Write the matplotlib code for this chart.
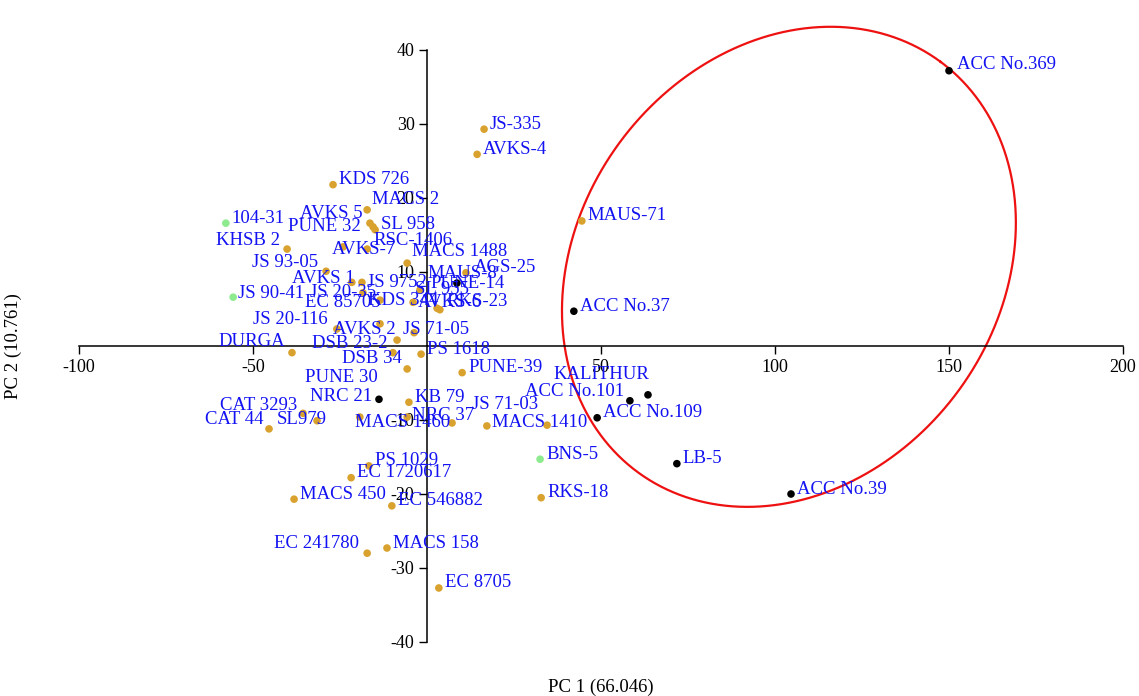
import numpy as np
import matplotlib.pyplot as plt

plt.rcParams['font.family'] = ['Liberation Serif', 'DejaVu Serif']
plt.rcParams['axes.unicode_minus'] = False

# genotype names, PC scores and group (o = orange, b = black, g = green)
names = ['JS-335', 'AVKS-4', 'MAUS-71', 'ACC No.37', 'ACC No.369',
         'KDS 726', 'MACS 2', 'AVKS 5', 'PUNE 32', 'SL 958',
         '104-31', 'KHSB 2', 'AVKS-7', 'RSC-1406', 'JS 93-05',
         'MACS 1488', 'AVKS 1', 'JS 9752', 'JS 90-41', 'JS 20-35',
         'EC 85705', 'KDS 344', 'SL 955', 'MAUS-8', 'AGS-25',
         'RKS-23', 'AVKS-6', 'AVKS 2', 'JS 20-116', 'DSB 23-2',
         'JS 71-05', 'DURGA', 'DSB 34', 'PS 1618', 'PUNE 30',
         'PUNE-39', 'NRC 21', 'KB 79', 'CAT 3293', 'SL979',
         'CAT 44', 'MACS 1460', 'NRC 37', 'JS 71-03', 'MACS 1410',
         'PUNE-14', 'ACC No.109', 'ACC No.101', 'KALITHUR', 'LB-5',
         'ACC No.39', 'BNS-5', 'RKS-18', 'PS 1029', 'EC 1720617',
         'MACS 450', 'EC 546882', 'EC 241780', 'MACS 158', 'EC 8705']
pc1 = [16.4, 14.4, 44.5, 42.2, 150.0,
       -27.0, -17.2, -16.4, -15.5, -14.9,
       -57.8, -40.2, -24.1, -17.2, -29.0,
       -5.7, -21.6, -18.7, -55.7, -18.4,
       -13.5, -4.0, -2.0, 8.6, 11.2,
       3.7, 2.9, -13.5, -25.9, -8.6,
       -3.7, -38.8, -9.8, -1.7, -5.7,
       10.1, -13.8, -5.2, -35.6, -31.6,
       -45.4, -19.3, -5.7, 7.2, 17.2,
       34.5, 48.9, 58.3, 63.5, 71.8,
       104.6, 32.5, 32.8, -16.7, -21.8,
       -38.2, -10.1, -17.2, -11.5, 3.4]
pc2 = [29.3, 25.9, 16.9, 4.7, 37.2,
       21.8, 18.4, 16.6, 16.1, 15.7,
       16.6, 13.1, 13.4, 13.1, 10.1,
       11.2, 8.6, 8.6, 6.6, 7.2,
       6.2, 5.9, 7.6, 8.5, 9.9,
       4.9, 5.1, 3.0, 2.3, 0.8,
       1.8, -0.9, -0.9, -1.1, -3.1,
       -3.6, -7.2, -7.6, -9.1, -10.1,
       -11.2, -9.6, -9.6, -10.4, -10.8,
       -10.7, -9.7, -7.4, -6.6, -15.9,
       -20.0, -15.3, -20.5, -16.2, -17.8,
       -20.7, -21.6, -28.0, -27.3, -32.7]
group = ['o', 'o', 'o', 'b', 'b',
         'o', 'o', 'o', 'o', 'o',
         'g', 'o', 'o', 'o', 'o',
         'o', 'o', 'o', 'g', 'o',
         'o', 'o', 'o', 'b', 'o',
         'o', 'o', 'o', 'o', 'o',
         'o', 'o', 'o', 'o', 'o',
         'o', 'b', 'o', 'o', 'o',
         'o', 'o', 'o', 'o', 'o',
         'o', 'b', 'b', 'b', 'b',
         'b', 'g', 'o', 'o', 'o',
         'o', 'o', 'o', 'o', 'o']

xticks = [-100, -50, 50, 100, 150, 200]
yticks = [-40, -30, -20, -10, 10, 20, 30, 40]

colors = {'o': '#D9A22E', 'b': '#000000', 'g': '#8EEA8E'}

# label offsets in pixels (dx right, dy up); default for the rest
default_off = (6, 5)
label_off = {
    'ACC No.369': (8, 6), 'MACS 2': (5, 10), 'AVKS 5': (-70, 10),
    'PUNE 32': (-85, 0), 'KHSB 2': (-71, 9), 'AVKS-7': (-11, -3),
    'RSC-1406': (6, 9), 'JS 93-05': (-74, 9), 'MACS 1488': (5, 12),
    'AVKS 1': (-60, 4), 'JS 9752': (5, 0), 'JS 90-41': (5, 4),
    'JS 20-35': (-53, 0), 'EC 85705': (-75, -2), 'KDS 344': (-45, 2),
    'SL 955': (-5, 0), 'MAUS-8': (-29, 10), 'AGS-25': (8, 5),
    'RKS-23': (7, 8), 'AVKS-6': (-19, 6), 'AVKS 2': (-47, -6),
    'JS 20-116': (-84, 9), 'DSB 23-2': (-85, -3), 'JS 71-05': (-11, 3),
    'DURGA': (-74, 11), 'DSB 34': (-51, -6), 'PUNE 30': (-102, -9),
    'NRC 21': (-69, 3), 'CAT 3293': (-83, 8), 'SL979': (-40, 1),
    'CAT 44': (-64, 9), 'MACS 1460': (-5, -5), 'NRC 37': (5, 2),
    'JS 71-03': (20, 18), 'MACS 1410': (5, 3), 'PUNE-14': (-117, 142),
    'ACC No.101': (-105, 9), 'KALITHUR': (-95, 20),
    'EC 241780': (-93, 10),
}

fig = plt.figure(figsize=(11.39, 6.96), dpi=100)
ax = fig.add_axes([79 / 1139, 54 / 696, 1044 / 1139, 592 / 696])
ax.set_xlim(-100, 200)
ax.set_ylim(-40, 40)

for x, y, g in zip(pc1, pc2, group):
    ax.scatter(x, y, s=30, color=colors[g], edgecolors='none', zorder=3)

for n, x, y in zip(names, pc1, pc2):
    dx, dy = label_off.get(n, default_off)
    ax.annotate(n, (x, y), xytext=(dx, dy), textcoords='offset pixels',
                ha='left', va='center', fontsize=13.5, color='#1212F2',
                zorder=4)

# red ellipse around the outlying group, built in pixel space
sx = 1044 / 300.0
sy = 592 / 80.0
cx, cy = 104.0, 10.7
a, b, th = 255, 210, np.deg2rad(53.5)
t = np.linspace(0, 2 * np.pi, 400)
u = a * np.cos(t) * np.cos(th) - b * np.sin(t) * np.sin(th)
v = a * np.cos(t) * np.sin(th) + b * np.sin(t) * np.cos(th)
ax.plot(cx + u / sx, cy + v / sy, color='#EE1111', lw=1.6, clip_on=False,
        zorder=2)

for s in ['top', 'right']:
    ax.spines[s].set_visible(False)
ax.spines['left'].set_position(('data', 0))
ax.spines['bottom'].set_position(('data', 0))
ax.spines['left'].set_linewidth(1.1)
ax.spines['bottom'].set_linewidth(1.1)
ax.set_xticks(xticks)
ax.set_yticks(yticks)
ax.tick_params(direction='out', length=6, width=1.0, labelsize=13, pad=3)

fig.text(601 / 1139, 1 - 687 / 696, 'PC 1 (66.046)', ha='center',
         va='center', fontsize=13.5)
fig.text(13 / 1139, 1 - 346 / 696, 'PC 2 (10.761)', ha='center',
         va='center', rotation=90, fontsize=13.5)

fig.savefig('out.png', dpi=100)
